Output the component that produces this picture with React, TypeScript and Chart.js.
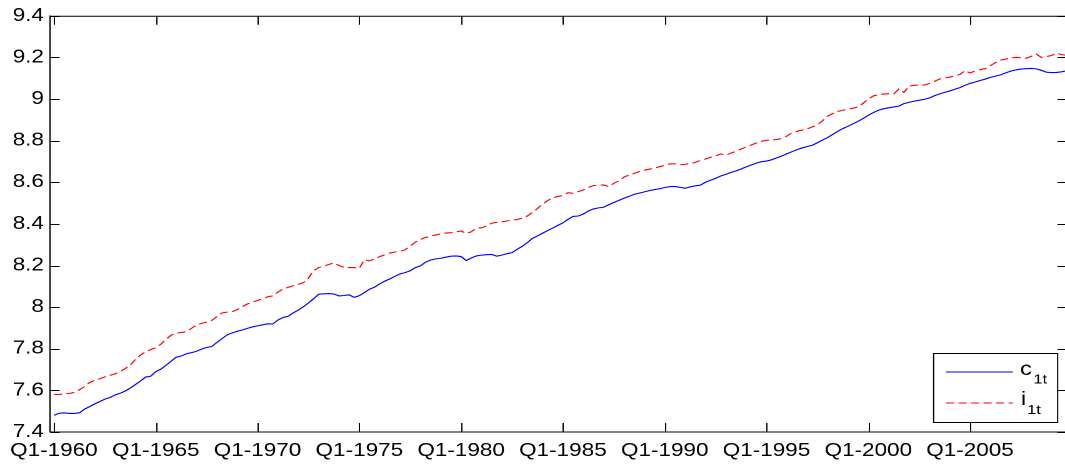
import React, { useEffect, useRef } from "react";
import { Chart, registerables } from "chart.js";

Chart.register(...registerables);

// quarterly observations Q1-1960 .. Q4-2009 (index 1..200)
const c1t: number[] = [
  7.480, 7.490, 7.492, 7.489, 7.489, 7.492, 7.510, 7.522, 7.535, 7.546,
  7.558, 7.566, 7.578, 7.586, 7.597, 7.611, 7.628, 7.645, 7.664, 7.668,
  7.690, 7.702, 7.720, 7.740, 7.759, 7.765, 7.776, 7.781, 7.788, 7.798,
  7.806, 7.811, 7.830, 7.848, 7.866, 7.876, 7.884, 7.890, 7.898, 7.905,
  7.910, 7.915, 7.920, 7.919, 7.938, 7.950, 7.956, 7.972, 7.986, 8.002,
  8.020, 8.040, 8.062, 8.064, 8.065, 8.063, 8.054, 8.056, 8.059, 8.047,
  8.055, 8.070, 8.086, 8.096, 8.112, 8.125, 8.136, 8.148, 8.160, 8.166,
  8.175, 8.190, 8.198, 8.216, 8.226, 8.232, 8.235, 8.240, 8.245, 8.246,
  8.243, 8.224, 8.236, 8.246, 8.250, 8.252, 8.253, 8.245, 8.250, 8.257,
  8.262, 8.278, 8.292, 8.310, 8.330, 8.342, 8.355, 8.368, 8.380, 8.393,
  8.405, 8.422, 8.436, 8.438, 8.447, 8.462, 8.472, 8.477, 8.480, 8.492,
  8.503, 8.513, 8.523, 8.532, 8.542, 8.548, 8.554, 8.560, 8.565, 8.569,
  8.575, 8.579, 8.580, 8.576, 8.571, 8.578, 8.583, 8.586, 8.600, 8.610,
  8.619, 8.630, 8.638, 8.647, 8.655, 8.664, 8.674, 8.683, 8.692, 8.699,
  8.702, 8.708, 8.717, 8.726, 8.737, 8.747, 8.757, 8.765, 8.772, 8.778,
  8.790, 8.803, 8.815, 8.830, 8.845, 8.858, 8.869, 8.881, 8.893, 8.907,
  8.922, 8.935, 8.946, 8.953, 8.958, 8.962, 8.966, 8.978, 8.984, 8.990,
  8.994, 8.999, 9.005, 9.016, 9.025, 9.032, 9.039, 9.047, 9.055, 9.066,
  9.075, 9.082, 9.089, 9.096, 9.104, 9.110, 9.116, 9.126, 9.134, 9.140,
  9.144, 9.146, 9.147, 9.145, 9.138, 9.129, 9.127, 9.128, 9.131, 9.136,
];

const i1t: number[] = [
  7.581, 7.580, 7.584, 7.585, 7.590, 7.603, 7.618, 7.638, 7.648, 7.656,
  7.665, 7.672, 7.680, 7.690, 7.705, 7.722, 7.748, 7.770, 7.785, 7.796,
  7.805, 7.822, 7.845, 7.865, 7.875, 7.878, 7.882, 7.898, 7.914, 7.922,
  7.928, 7.936, 7.955, 7.972, 7.976, 7.978, 7.988, 8.002, 8.015, 8.025,
  8.032, 8.040, 8.050, 8.054, 8.072, 8.087, 8.095, 8.103, 8.110, 8.117,
  8.140, 8.175, 8.190, 8.197, 8.205, 8.213, 8.200, 8.191, 8.190, 8.190,
  8.187, 8.228, 8.222, 8.232, 8.243, 8.252, 8.260, 8.265, 8.269, 8.275,
  8.294, 8.312, 8.325, 8.335, 8.341, 8.347, 8.352, 8.356, 8.358, 8.362,
  8.366, 8.354, 8.362, 8.380, 8.381, 8.390, 8.403, 8.408, 8.410, 8.414,
  8.418, 8.421, 8.428, 8.438, 8.455, 8.474, 8.495, 8.512, 8.525, 8.532,
  8.536, 8.550, 8.547, 8.555, 8.563, 8.575, 8.584, 8.586, 8.587, 8.579,
  8.595, 8.607, 8.625, 8.635, 8.643, 8.651, 8.658, 8.663, 8.668, 8.675,
  8.682, 8.688, 8.689, 8.684, 8.686, 8.690, 8.695, 8.705, 8.712, 8.720,
  8.727, 8.736, 8.730, 8.740, 8.749, 8.760, 8.770, 8.779, 8.789, 8.797,
  8.802, 8.803, 8.806, 8.810, 8.822, 8.838, 8.845, 8.851, 8.857, 8.866,
  8.876, 8.895, 8.918, 8.930, 8.940, 8.946, 8.951, 8.956, 8.962, 8.980,
  9.000, 9.015, 9.021, 9.024, 9.025, 9.024, 9.048, 9.032, 9.062, 9.066,
  9.067, 9.067, 9.075, 9.085, 9.096, 9.101, 9.105, 9.112, 9.118, 9.136,
  9.125, 9.135, 9.141, 9.146, 9.160, 9.175, 9.187, 9.192, 9.197, 9.200,
  9.199, 9.196, 9.205, 9.216, 9.200, 9.204, 9.209, 9.221, 9.213, 9.210,
];

const xTickPositions: number[] = [1, 21, 41, 61, 81, 101, 121, 141, 161, 181];
const xTickLabels: string[] = [
  "Q1-1960", "Q1-1965", "Q1-1970", "Q1-1975", "Q1-1980",
  "Q1-1985", "Q1-1990", "Q1-1995", "Q1-2000", "Q1-2005",
];
const yTickLabels: string[] = ["7.4", "7.6", "7.8", "8", "8.2", "8.4", "8.6", "8.8", "9", "9.2", "9.4"];
const seriesNames: string[] = ["c", "i"];
const seriesSubs: string[] = ["1t", "1t"];

const STRETCH = 1.25;
const LOGICAL_W = 856;
const H = 467;
const FONT = "'Liberation Sans', Arial, sans-serif";

const framePlugin = {
  id: "frame",
  afterDraw(chart: any) {
    const ctx = chart.ctx as CanvasRenderingContext2D;
    const { left, right, top, bottom } = chart.chartArea;
    const xs = chart.scales.x;
    const ys = chart.scales.y;
    ctx.save();
    ctx.strokeStyle = "#000";
    ctx.lineWidth = 1;
    ctx.setLineDash([]);
    ctx.beginPath();
    ctx.moveTo(left, top + 0.5);
    ctx.lineTo(right, top + 0.5);
    ctx.moveTo(right - 0.5, top);
    ctx.lineTo(right - 0.5, bottom);
    xs.ticks.forEach((t: any) => {
      const px = Math.round(xs.getPixelForValue(t.value)) + 0.5;
      ctx.moveTo(px, bottom);
      ctx.lineTo(px, bottom - 9);
      ctx.moveTo(px, top);
      ctx.lineTo(px, top + 9);
    });
    ys.ticks.forEach((t: any) => {
      const py = Math.round(ys.getPixelForValue(t.value)) + 0.5;
      ctx.moveTo(left, py);
      ctx.lineTo(left + 7.5, py);
      ctx.moveTo(right, py);
      ctx.lineTo(right - 7.5, py);
    });
    ctx.stroke();

    // legend box
    const bx = 746.4, by = 353, bw = 99.2, bh = 69;
    ctx.fillStyle = "#fff";
    ctx.fillRect(bx, by, bw, bh);
    ctx.strokeRect(bx + 0.5, by + 0.5, bw, bh);
    const rows = [
      { y: 372, color: "#0000ff", dash: [] as number[], textX: 816, subX: 826.8, base: 375, subBase: 383.5 },
      { y: 403, color: "#ff0000", dash: [6.5, 3.5], textX: 816.8, subX: 821.8, base: 405, subBase: 414 },
    ];
    rows.forEach((r, k) => {
      ctx.strokeStyle = r.color;
      ctx.lineWidth = 1.1;
      ctx.setLineDash(r.dash);
      ctx.beginPath();
      ctx.moveTo(756.8, r.y);
      ctx.lineTo(810.4, r.y);
      ctx.stroke();
      ctx.setLineDash([]);
      ctx.fillStyle = "#000";
      ctx.textBaseline = "alphabetic";
      ctx.textAlign = "left";
      ctx.font = `19px ${FONT}`;
      ctx.fillText(seriesNames[k], r.textX, r.base);
      ctx.font = `13px ${FONT}`;
      ctx.fillText(seriesSubs[k], r.subX, r.subBase);
    });
    ctx.restore();
  },
};

export default function App() {
  const ref = useRef<HTMLCanvasElement | null>(null);

  useEffect(() => {
    document.body.style.margin = "0";
    const canvas = ref.current;
    if (!canvas) return;
    const chart = new Chart(canvas, {
      type: "line",
      data: {
        datasets: [
          {
            label: "c1t",
            data: c1t.map((v, k) => ({ x: k + 1, y: v })),
            borderColor: "#0000ff",
            borderWidth: 1.1,
            pointRadius: 0,
            tension: 0,
            fill: false,
          },
          {
            label: "i1t",
            data: i1t.map((v, k) => ({ x: k + 1, y: v })),
            borderColor: "#ff0000",
            borderWidth: 1.1,
            borderDash: [6.5, 3.5],
            pointRadius: 0,
            tension: 0,
            fill: false,
          },
        ],
      },
      options: {
        animation: false,
        responsive: false,
        devicePixelRatio: 2,
        layout: { padding: { top: 13, right: 2.6, left: 0, bottom: 0 } },
        plugins: {
          legend: { display: false },
          tooltip: { enabled: false },
        },
        scales: {
          x: {
            type: "linear",
            min: 0.27,
            max: 200,
            grid: { display: false, drawTicks: false },
            border: { display: true, color: "#000", width: 1 },
            afterBuildTicks: (s: any) => {
              s.ticks = xTickPositions.map((v) => ({ value: v }));
            },
            afterFit: (s: any) => {
              s.height = 35;
            },
            ticks: {
              autoSkip: false,
              maxRotation: 0,
              minRotation: 0,
              padding: 8,
              color: "#000",
              font: { family: FONT, size: 18 },
              callback: (_v: any, idx: number) => xTickLabels[idx],
            },
          },
          y: {
            type: "linear",
            min: 7.4,
            max: 9.4,
            grid: { display: false, drawTicks: false },
            border: { display: true, color: "#000", width: 1 },
            afterFit: (s: any) => {
              s.width = 39.4;
            },
            ticks: {
              stepSize: 0.2,
              padding: 5,
              color: "#000",
              font: { family: FONT, size: 18 },
              callback: (_v: any, idx: number) => yTickLabels[idx],
            },
          },
        },
      },
      plugins: [framePlugin],
    });
    return () => chart.destroy();
  }, []);

  return (
    <div style={{ position: "absolute", left: 0, top: 0, width: 1065, height: H, overflow: "hidden", background: "#fff" }}>
      <div style={{ transform: `scaleX(${STRETCH})`, transformOrigin: "0 0", width: LOGICAL_W, height: H }}>
        <canvas ref={ref} width={LOGICAL_W} height={H} style={{ width: LOGICAL_W, height: H, display: "block" }} />
      </div>
    </div>
  );
}
